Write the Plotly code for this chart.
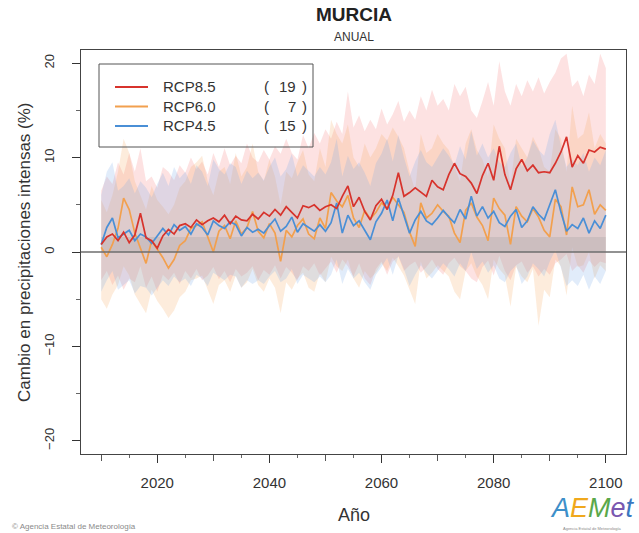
import plotly.graph_objects as go

years = list(range(2010, 2101))

rcp85_mean = [0.8,1.6,1.9,1.2,2.1,1.0,1.8,4.1,1.5,1.2,
              0.4,1.7,2.4,1.9,2.8,3.0,2.6,3.4,2.9,3.3,
              3.6,3.2,3.9,3.0,3.8,3.4,3.3,4.0,3.5,4.2,
              3.8,4.5,3.9,4.8,4.2,3.6,4.9,4.7,5.0,4.4,
              4.8,5.0,4.6,5.9,7.0,4.8,5.8,4.3,3.4,4.9,
              5.6,4.5,6.0,8.4,5.9,6.3,6.8,6.3,5.9,7.6,
              6.9,6.6,8.2,9.4,8.3,8.0,7.3,6.2,8.1,9.4,
              7.6,11.2,8.2,6.6,8.8,9.8,8.6,9.2,8.4,8.5,
              8.4,9.4,10.6,12.2,9.0,10.2,9.4,10.8,10.6,11.1,
              10.9]
rcp85_upper = [6.5,8.0,7.2,9.5,8.2,10.5,8.5,11.0,7.5,8.0,
               6.8,9.0,8.5,7.6,9.2,8.4,10.0,8.8,9.6,8.2,
               10.5,9.0,11.0,9.2,10.2,9.4,11.5,10.0,9.5,10.8,
               9.8,11.2,10.4,12.0,10.5,9.8,12.4,11.0,12.6,11.5,
               13.0,12.0,13.8,12.5,17.0,13.2,14.5,12.8,14.0,13.0,
               15.2,13.5,14.6,16.0,13.8,15.0,14.0,16.5,15.0,17.2,
               15.5,16.2,15.0,17.8,16.5,17.5,15.0,14.2,16.0,18.0,
               15.5,20.2,17.0,15.5,17.8,16.5,18.2,17.0,18.5,16.8,
               18.0,19.0,20.5,21.0,17.5,18.2,16.5,18.8,17.8,21.0,
               19.5]
rcp85_lower = [-3.0,-2.0,-3.5,-2.5,-4.0,-2.8,-3.2,-1.5,-3.8,-2.6,
               -4.2,-2.4,-3.0,-2.2,-3.4,-2.0,-2.8,-1.8,-3.0,-2.5,
               -1.6,-2.9,-2.0,-3.2,-1.8,-2.6,-2.2,-1.5,-3.0,-1.9,
               -2.4,-1.4,-2.8,-1.6,-2.2,-3.0,-1.5,-2.0,-1.2,-2.5,
               -1.8,-1.0,-2.2,-0.8,-1.5,-2.6,-1.2,-2.8,-3.5,-1.8,
               -1.0,-2.4,-1.0,-0.5,-2.0,-1.4,-1.0,-2.2,-1.6,-0.8,
               -1.8,-2.4,-1.2,-0.6,-1.5,-2.0,-2.8,-3.2,-1.6,-0.9,
               -2.5,-0.4,-2.0,-3.0,-1.4,-1.0,-2.2,-1.5,-2.6,-1.8,
               -2.4,-1.2,-0.8,-0.2,-2.0,-1.4,-2.2,-0.9,-1.6,-1.0,
               -1.2]

rcp60_mean = [0.5,-0.5,0.8,2.5,5.7,4.5,2.0,0.5,-1.2,1.2,
              0.3,-0.6,-1.7,-0.8,0.7,1.2,2.5,2.8,3.2,1.5,
              0.0,2.2,2.8,1.4,3.3,1.9,2.6,4.3,2.2,1.5,
              3.0,2.0,-1.0,2.3,1.6,2.8,3.5,1.9,1.4,3.6,
              2.5,6.3,5.4,4.8,6.0,3.6,2.6,4.4,3.5,4.2,
              5.2,4.6,5.8,5.0,4.2,2.1,0.6,5.2,3.6,4.1,
              5.0,4.3,3.8,2.0,1.0,4.4,5.2,3.7,2.8,1.2,
              5.7,4.6,3.9,0.8,4.8,3.8,3.2,4.6,3.7,2.3,
              1.6,5.6,4.8,1.8,6.9,4.8,5.0,6.6,4.0,5.0,
              4.4]
rcp60_upper = [5.5,4.2,6.0,8.5,12.0,10.5,7.5,6.0,4.5,7.0,
               5.5,4.8,4.0,5.0,6.8,7.5,9.0,9.5,10.2,7.5,
               6.0,8.5,9.0,7.2,10.5,8.0,9.0,11.5,8.5,7.5,
               9.8,8.0,5.0,8.5,7.8,9.5,10.8,8.2,7.5,11.0,
               9.0,14.0,12.5,11.5,13.5,10.0,9.0,11.5,10.0,11.0,
               12.5,11.8,13.2,12.2,11.0,8.5,6.5,12.5,10.5,11.0,
               12.5,11.5,10.8,9.0,7.5,11.5,13.0,10.8,9.8,8.0,
               13.5,12.0,11.0,7.0,12.0,11.0,10.0,12.2,11.0,9.0,
               8.5,13.0,12.0,8.5,15.5,12.0,12.5,14.8,11.0,12.5,
               11.5]
rcp60_lower = [-5.0,-6.0,-4.5,-3.5,-1.5,-2.5,-4.5,-5.5,-6.5,-4.0,
               -5.2,-6.0,-7.0,-6.2,-4.8,-4.2,-3.0,-2.8,-2.5,-4.0,
               -5.5,-3.5,-3.0,-4.2,-2.5,-3.8,-3.2,-1.8,-3.5,-4.2,
               -2.8,-3.8,-6.5,-3.2,-4.0,-2.8,-2.2,-3.8,-4.2,-2.2,
               -3.2,-0.5,-1.5,-2.0,-0.8,-2.8,-3.8,-2.0,-2.8,-2.2,
               -1.2,-2.0,-0.6,-1.5,-2.5,-4.0,-5.5,-1.0,-2.8,-2.2,
               -1.4,-2.0,-2.6,-4.2,-5.0,-2.0,-1.2,-2.6,-3.5,-5.0,
               -0.8,-1.8,-2.5,-5.8,-1.6,-2.6,-3.2,-1.8,-7.8,-4.0,
               -4.8,-0.8,-1.5,-4.6,0.5,-1.6,-1.4,0.0,-2.8,-1.4,
               -2.0]

rcp45_mean = [0.8,2.6,3.6,1.5,1.9,2.3,1.2,1.9,1.6,0.9,
              1.7,2.5,1.8,2.9,2.3,2.7,1.9,3.0,2.6,1.8,
              3.3,2.8,2.5,3.2,2.9,1.7,2.6,2.1,2.4,2.0,
              2.8,3.5,2.2,2.7,3.7,2.1,3.0,2.6,2.2,2.9,
              2.2,3.1,5.2,2.0,3.9,2.8,3.3,2.3,1.3,3.2,
              4.1,5.5,3.3,5.7,3.8,2.0,3.4,4.3,3.3,2.9,
              3.6,4.4,3.7,3.1,4.5,3.5,5.9,3.8,4.8,3.6,
              4.3,3.1,2.7,3.8,4.5,2.6,3.3,4.8,4.0,3.4,
              5.0,6.6,4.2,2.2,2.9,2.5,3.6,2.0,3.3,2.5,
              3.9]
rcp45_upper = [6.0,8.5,9.5,6.5,7.0,7.8,6.2,7.5,6.8,5.8,
               7.2,8.4,7.0,9.0,7.8,8.5,7.2,9.2,8.5,7.0,
               9.8,8.8,8.2,9.4,9.0,7.2,8.6,7.8,8.4,7.6,
               9.0,10.0,8.0,8.8,10.4,8.0,9.2,8.6,8.0,9.0,
               8.2,9.5,12.0,8.0,10.2,8.8,9.5,8.4,7.0,9.4,
               10.4,12.0,9.6,12.4,10.0,8.0,9.6,10.8,9.5,9.0,
               10.0,11.0,10.2,9.2,11.2,9.8,12.8,10.2,11.5,10.0,
               11.0,9.5,9.0,10.5,11.5,9.0,10.0,11.8,10.8,10.2,
               12.5,14.0,11.2,9.0,9.8,9.2,10.5,8.5,10.0,9.2,
               10.8]
rcp45_lower = [-4.2,-3.0,-2.0,-4.0,-3.5,-3.0,-4.4,-3.6,-3.8,-4.6,
               -3.8,-3.0,-3.6,-2.6,-3.2,-2.8,-3.6,-2.4,-2.8,-3.6,
               -2.2,-2.6,-3.0,-2.4,-2.6,-3.8,-3.0,-3.4,-3.0,-3.4,
               -2.6,-2.0,-3.2,-2.8,-1.8,-3.4,-2.4,-2.8,-3.2,-2.6,
               -3.2,-2.4,-0.8,-3.4,-1.8,-2.8,-2.2,-3.2,-4.0,-2.4,
               -1.6,-0.6,-2.4,-0.4,-1.8,-3.6,-2.4,-1.4,-2.2,-2.8,
               -2.0,-1.2,-1.8,-2.6,-1.2,-2.0,0.0,-1.8,-1.0,-2.2,
               -1.4,-2.8,-3.2,-2.0,-1.4,-3.4,-2.6,-1.2,-1.8,-2.6,
               -1.0,0.2,-1.8,-3.6,-3.0,-3.6,-2.4,-4.0,-2.6,-3.4,
               -2.0]

scenarios = ["RCP8.5", "RCP6.0", "RCP4.5"]
model_counts = [19, 7, 15]
ref_band = [0.0, 1.6]
x_ticks = [2020, 2040, 2060, 2080, 2100]
x_mid_ticks = [2010, 2030, 2050, 2070, 2090]
y_ticks = [-20, -10, 0, 10, 20]

line_colors = {"RCP8.5": "#d7332c", "RCP6.0": "#f2a04e", "RCP4.5": "#4a8fd6"}
band_colors = {"RCP8.5": "rgba(245,110,110,0.20)",
               "RCP6.0": "rgba(248,170,95,0.22)",
               "RCP4.5": "rgba(120,170,230,0.22)"}

series = {
    "RCP8.5": (rcp85_mean, rcp85_upper, rcp85_lower),
    "RCP6.0": (rcp60_mean, rcp60_upper, rcp60_lower),
    "RCP4.5": (rcp45_mean, rcp45_upper, rcp45_lower),
}

FONT = "Liberation Sans, Arial, Helvetica, sans-serif"
fig = go.Figure()

for s in scenarios:
    mean, up, lo = series[s]
    fig.add_trace(go.Scatter(
        x=years + years[::-1], y=up + lo[::-1], fill="toself",
        fillcolor=band_colors[s], line=dict(width=0), mode="lines",
        hoverinfo="skip", showlegend=False))

# grey reference band near zero
fig.add_trace(go.Scatter(
    x=[years[0], years[-1], years[-1], years[0]],
    y=[ref_band[0], ref_band[0], ref_band[1], ref_band[1]],
    fill="toself", fillcolor="rgba(150,150,150,0.25)", line=dict(width=0),
    mode="lines", hoverinfo="skip", showlegend=False))

fig.add_shape(type="line", xref="paper", x0=0, x1=1, yref="y", y0=0, y1=0,
              line=dict(color="#6e6e6e", width=1.6))

for s in ["RCP6.0", "RCP4.5", "RCP8.5"]:
    mean = series[s][0]
    fig.add_trace(go.Scatter(x=years, y=mean, mode="lines",
                             line=dict(color=line_colors[s], width=1.7),
                             showlegend=False, name=s))

# medium ticks via overlay axis
fig.add_trace(go.Scatter(x=[years[0]], y=[0], xaxis="x2", mode="markers",
                         marker=dict(opacity=0), showlegend=False, hoverinfo="skip"))

L, R, T, B = 81, 13, 50, 79
W, H = 639, 533
pw, ph = W - L - R, H - T - B

def px(xp):
    return (xp - L) / pw

def py(yp):
    return (H - B - yp) / ph

# legend box
fig.add_shape(type="rect", xref="paper", yref="paper",
              x0=px(99), x1=px(313), y0=py(147), y1=py(64),
              line=dict(color="#555555", width=1), fillcolor="rgba(255,255,255,0)")
for i, s in enumerate(scenarios):
    yy = py(87 + i * 19.5)
    fig.add_shape(type="line", xref="paper", yref="paper",
                  x0=px(115), x1=px(148), y0=yy, y1=yy,
                  line=dict(color=line_colors[s], width=2))
    fig.add_annotation(xref="paper", yref="paper", x=px(161), y=yy,
                       text=s, showarrow=False, xanchor="left", yanchor="middle",
                       font=dict(family=FONT, size=15, color="#333333"))
    fig.add_annotation(xref="paper", yref="paper", x=px(262), y=yy,
                       text="(", showarrow=False, xanchor="left", yanchor="middle",
                       font=dict(family=FONT, size=15, color="#333333"))
    fig.add_annotation(xref="paper", yref="paper", x=px(298), y=yy,
                       text=str(model_counts[i]), showarrow=False, xanchor="right",
                       yanchor="middle", font=dict(family=FONT, size=15, color="#333333"))
    fig.add_annotation(xref="paper", yref="paper", x=px(300), y=yy,
                       text=")", showarrow=False, xanchor="left", yanchor="middle",
                       font=dict(family=FONT, size=15, color="#333333"))

# titles
fig.add_annotation(xref="paper", yref="paper", x=0.5, y=py(15), text="<b>MURCIA</b>",
                   showarrow=False, yanchor="middle",
                   font=dict(family=FONT, size=19, color="#222222"))
fig.add_annotation(xref="paper", yref="paper", x=0.5, y=py(37), text="ANUAL",
                   showarrow=False, yanchor="middle",
                   font=dict(family=FONT, size=12, color="#333333"))
fig.add_annotation(xref="paper", yref="paper", x=0.5, y=py(515), text="Año",
                   showarrow=False, yanchor="middle",
                   font=dict(family=FONT, size=18, color="#333333"))
fig.add_annotation(xref="paper", yref="paper", x=px(24), y=0.5,
                   text="Cambio en precipitaciones intensas (%)", textangle=-90,
                   showarrow=False, xanchor="center", yanchor="middle",
                   font=dict(family=FONT, size=17, color="#333333"))
fig.add_annotation(xref="paper", yref="paper", x=px(10), y=py(526),
                   text="© Agencia Estatal de Meteorología", showarrow=False,
                   xanchor="left", yanchor="middle",
                   font=dict(family=FONT, size=8, color="#8a8a8a"))
fig.add_annotation(xref="paper", yref="paper", x=px(592), y=py(508),
                   text=("<i><span style='color:#3d8fc9'>A</span>"
                         "<span style='color:#f0a81c'>E</span>"
                         "<span style='color:#5aa84a'>M</span>"
                         "<span style='color:#7a58b0'>e</span>"
                         "<span style='color:#3a78c0'>t</span></i>"),
                   showarrow=False, xanchor="center", yanchor="middle",
                   font=dict(family="Liberation Sans Narrow, Liberation Sans, sans-serif",
                             size=27))
fig.add_annotation(xref="paper", yref="paper", x=px(592), y=py(528),
                   text="Agencia Estatal de Meteorología", showarrow=False,
                   xanchor="center", yanchor="middle",
                   font=dict(family=FONT, size=4, color="#8a8a8a"))

xr = [2006.4, 2103.6]
fig.update_layout(
    width=W, height=H, margin=dict(l=L, r=R, t=T, b=B),
    paper_bgcolor="white", plot_bgcolor="white", showlegend=False,
    xaxis=dict(range=xr, tickvals=x_ticks, ticks="outside", ticklen=8,
               tickwidth=1.3, tickcolor="#333333", showgrid=False, zeroline=False,
               showline=True, linecolor="#444444", linewidth=1.2, mirror=True,
               ticklabelstandoff=7,
               minor=dict(dtick=5, tick0=2010, ticklen=3, ticks="outside",
                          tickcolor="#666666", showgrid=False),
               tickfont=dict(family=FONT, size=15, color="#333333")),
    xaxis2=dict(range=xr, overlaying="x", side="bottom", tickvals=x_mid_ticks,
                ticks="outside", ticklen=6, tickcolor="#555555", showgrid=False,
                zeroline=False, showline=False, showticklabels=False),
    yaxis=dict(range=[-21.4, 21.4], tickvals=y_ticks, ticks="outside", ticklen=8,
               tickwidth=1.3, tickcolor="#333333", showgrid=False, zeroline=False,
               showline=True, linecolor="#444444", linewidth=1.2, mirror=True,
               tickangle=-90, ticklabelstandoff=13,
               minor=dict(dtick=5, ticklen=4, ticks="outside",
                          tickcolor="#666666", showgrid=False),
               tickfont=dict(family=FONT, size=13, color="#333333")),
)

fig.write_html("out.html")
